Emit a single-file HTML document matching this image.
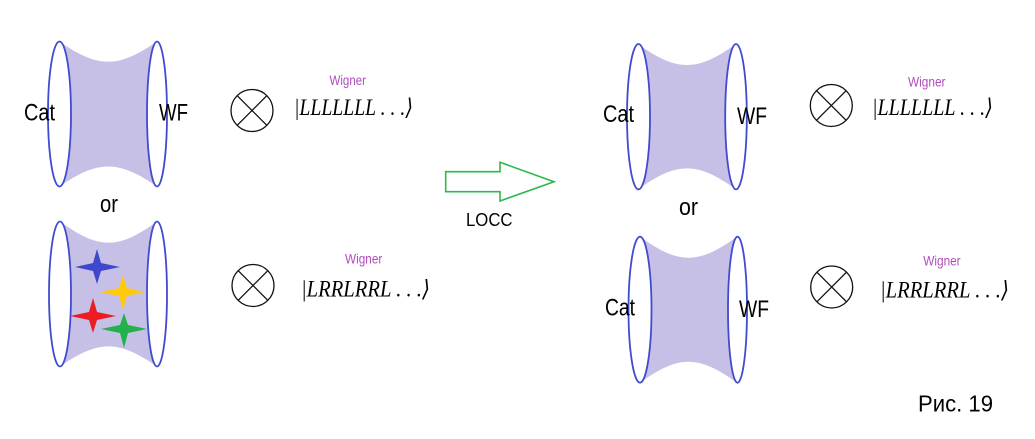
<!DOCTYPE html>
<html>
<head>
<meta charset="utf-8">
<style>
html,body{margin:0;padding:0;background:#fff;}
svg{display:block;}
</style>
</head>
<body>
<svg width="1035" height="439" viewBox="0 0 1035 439" xmlns="http://www.w3.org/2000/svg">
<rect width="1035" height="439" fill="#fff"/>
<g fill="#c6c0e6">
  <path d="M59.5,41.5 C98,68.4 118,68.4 157,41.5 L157,186.5 C118,159.8 98,159.8 59.5,186.5 Z"/>
  <path d="M60,221.5 C99,249.7 118,249.7 157,221.5 L157,366.5 C118,339.7 99,339.7 60,366.5 Z"/>
  <path d="M638,44 C677,72 697,72 736,44 L736,189.4 C697,161.3 677,161.3 638,189.4 Z"/>
  <path d="M640,236.7 C679,264.7 698,264.7 737,236.7 L737,382.7 C698,354.7 679,354.7 640,382.7 Z"/>
</g>
<g fill="#fff" stroke="#3f4ccf" stroke-width="1.8">
  <ellipse cx="59.5" cy="114" rx="11.5" ry="72.5"/>
  <ellipse cx="157" cy="114" rx="10" ry="72.5"/>
  <ellipse cx="60" cy="294" rx="11" ry="72.5"/>
  <ellipse cx="157" cy="294" rx="10" ry="72.5"/>
  <ellipse cx="638.5" cy="116.7" rx="11.5" ry="72.7"/>
  <ellipse cx="736" cy="116.7" rx="10.8" ry="72.7"/>
  <ellipse cx="640" cy="309.7" rx="11.5" ry="73"/>
  <ellipse cx="737.5" cy="309.7" rx="9.5" ry="73"/>
</g>
<path fill="#3f48cc" d="M97,249 L101,263 L120,267 L101,271 L97,284 L93,271 L75,267 L93,263 Z"/>
<path fill="#ffc90e" d="M123,275 L127,288 L145,292 L127,296 L123,310 L119,296 L100,292 L119,288 Z"/>
<path fill="#ed1c24" d="M93,298 L97,312 L116,316 L97,320 L93,333 L89,320 L70,316 L89,312 Z"/>
<path fill="#22b14c" d="M124,313 L128,325 L147,329 L128,333 L124,348 L120,333 L101,329 L120,325 Z"/>

<g font-family="Liberation Sans, Arial, sans-serif" fill="#000" font-size="24">
  <text x="24" y="120.5" textLength="31" lengthAdjust="spacingAndGlyphs">Cat</text>
  <text x="159" y="120.5" textLength="29" lengthAdjust="spacingAndGlyphs">WF</text>
  <text x="100" y="212" textLength="18" lengthAdjust="spacingAndGlyphs">or</text>
  <text x="603" y="122" textLength="31" lengthAdjust="spacingAndGlyphs">Cat</text>
  <text x="737" y="124" textLength="30" lengthAdjust="spacingAndGlyphs">WF</text>
  <text x="679" y="215" textLength="19" lengthAdjust="spacingAndGlyphs">or</text>
  <text x="605" y="315.5" textLength="30" lengthAdjust="spacingAndGlyphs">Cat</text>
  <text x="739" y="317" textLength="30" lengthAdjust="spacingAndGlyphs">WF</text>
  <text x="466" y="226" font-size="18" textLength="46.5" lengthAdjust="spacingAndGlyphs">LOCC</text>
  <text x="918" y="411.5" font-size="23" textLength="75" lengthAdjust="spacingAndGlyphs">Рис. 19</text>
</g>

<polygon points="445.7,171.7 500,171.7 500,162.3 554,181.7 500,201 500,191.7 445.7,191.7" fill="none" stroke="#2db84b" stroke-width="1.6"/>

<g fill="none" stroke="#111" stroke-width="1.3">
  <circle cx="252" cy="110.5" r="21"/>
  <line x1="237.2" y1="95.7" x2="266.8" y2="125.3"/>
  <line x1="266.8" y1="95.7" x2="237.2" y2="125.3"/>
  <circle cx="253" cy="285.5" r="21"/>
  <line x1="238.2" y1="270.7" x2="267.8" y2="300.3"/>
  <line x1="267.8" y1="270.7" x2="238.2" y2="300.3"/>
  <circle cx="831.3" cy="105.5" r="21"/>
  <line x1="816.5" y1="90.7" x2="846.1" y2="120.3"/>
  <line x1="846.1" y1="90.7" x2="816.5" y2="120.3"/>
  <circle cx="831.7" cy="287" r="21"/>
  <line x1="816.9" y1="272.2" x2="846.5" y2="301.8"/>
  <line x1="846.5" y1="272.2" x2="816.9" y2="301.8"/>
</g>

<g font-family="Liberation Sans, Arial, sans-serif" fill="#b04cbc" font-size="14">
  <text x="329.5" y="85" textLength="36.5" lengthAdjust="spacingAndGlyphs">Wigner</text>
  <text x="908" y="86.7" textLength="37.5" lengthAdjust="spacingAndGlyphs">Wigner</text>
  <text x="345" y="263.3" textLength="37.3" lengthAdjust="spacingAndGlyphs">Wigner</text>
  <text x="923.3" y="265.7" textLength="37.3" lengthAdjust="spacingAndGlyphs">Wigner</text>
</g>

<g font-family="Liberation Serif, DejaVu Serif, serif" font-style="italic" fill="#000" font-size="23">
  <text x="294" y="115" textLength="119" lengthAdjust="spacingAndGlyphs">|LLLLLLL . . .⟩</text>
  <text x="872" y="115" textLength="121" lengthAdjust="spacingAndGlyphs">|LLLLLLL . . .⟩</text>
  <text x="301" y="296.7" textLength="129" lengthAdjust="spacingAndGlyphs">|LRRLRRL . . .⟩</text>
  <text x="880" y="297.3" textLength="129" lengthAdjust="spacingAndGlyphs">|LRRLRRL . . .⟩</text>
</g>
</svg>
</body>
</html>
